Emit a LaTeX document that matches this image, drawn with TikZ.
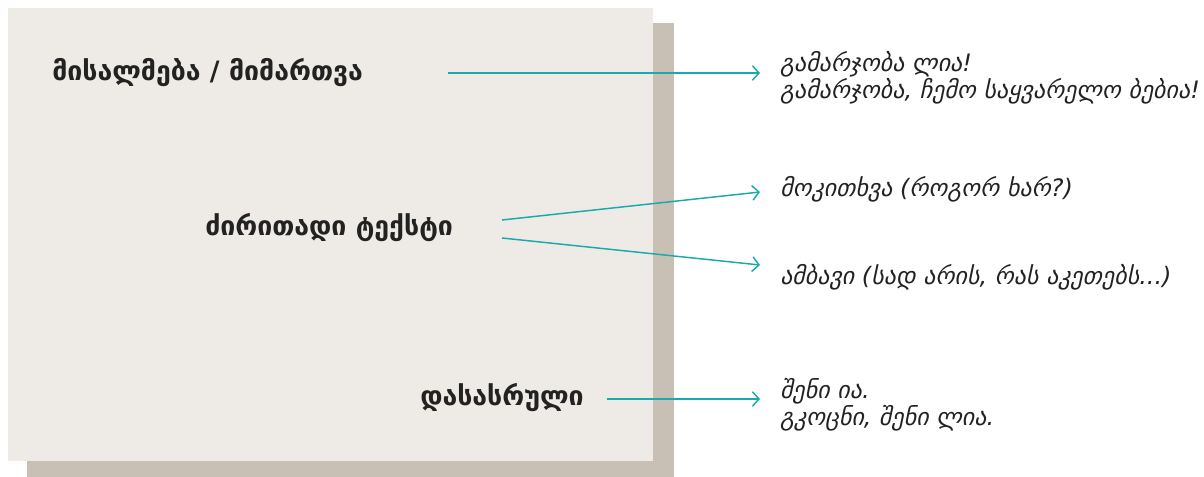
\documentclass[tikz,border=0pt]{standalone}
\usepackage{fontspec}
\setmainfont{DejaVu Sans}[BoldFont={DejaVu Sans Bold},ItalicFont={DejaVu Sans Oblique}]
\usetikzlibrary{arrows.meta}
\definecolor{sheet}{HTML}{EEEBE6}
\definecolor{sheetshadow}{HTML}{C9C0B5}
\definecolor{tealline}{HTML}{1AA9AC}
\definecolor{ink}{HTML}{222222}
\begin{document}
\begin{tikzpicture}[x=0.75pt, y=-0.75pt,
    part/.style={font=\bfseries\fontsize{20}{24}\selectfont, text=ink, anchor=west, inner sep=0pt},
    reply/.style={font=\itshape\fontsize{18}{20.5}\selectfont, text=ink, anchor=west, align=left, inner xsep=15pt, inner ysep=0pt},
    link/.style={draw=tealline, line width=1.1pt, -{Straight Barb[length=5pt,width=11pt,line width=1.1pt]}},
]
    \useasboundingbox (0,0) rectangle (1204,477);

    % Letter sheet
    \fill[sheetshadow] (27,23) rectangle (674,477);
    \fill[sheet] (8,8) rectangle (653,461);

    % Parts of the letter
    \node[part] (greet) at (52,73) {მისალმება / მიმართვა};
    \node[part] (body) at (205,228) {ძირითადი ტექსტი};
    \node[part] (close) at (420,398) {დასასრული};

    % Examples
    \node[reply] (hello) at (760,78) {გამარჯობა ლია!\\გამარჯობა, ჩემო საყვარელო ბებია!};
    \node[reply] (ask) at (760,189) {მოკითხვა (როგორ ხარ?)};
    \node[reply] (news) at (760,277) {ამბავი (სად არის, რას აკეთებს...)};
    \node[reply] (bye) at (760,405) {შენი ია.\\გკოცნი, შენი ლია.};

    % Links
    \coordinate (g1) at (448,73);
    \coordinate (b1) at (502,220);
    \coordinate (b2) at (502,238);
    \coordinate (c1) at (607,399);
    \draw[link] (g1) -- ([yshift=3.75pt]hello.west);
    \draw[link] (b1) -- ([yshift=-2.25pt]ask.west);
    \draw[link] (b2) -- ([yshift=9pt]news.west);
    \draw[link] (c1) -- ([yshift=4.5pt]bye.west);
\end{tikzpicture}
\end{document}
